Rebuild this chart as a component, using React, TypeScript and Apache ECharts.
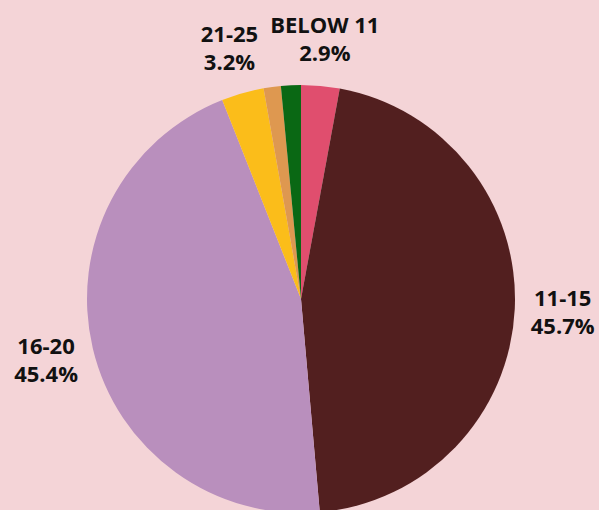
import React, { useEffect, useRef } from "react";
import * as echarts from "echarts";

const categories = ["BELOW 11", "11-15", "16-20", "21-25", "26-30", "ABOVE 30"];
const shares = [2.9, 45.7, 45.4, 3.2, 1.3, 1.5];
const colors = ["#e04e6e", "#521f1f", "#b98fbd", "#fbbd1a", "#de9850", "#0a6814"];
const labelled = [true, true, true, true, false, false];

export default function App() {
  const ref = useRef<HTMLDivElement>(null);
  useEffect(() => {
    if (!ref.current) return;
    const chart = echarts.init(ref.current, null, { renderer: "svg" });
    const slices = categories.map((name, i) => ({
      name,
      value: shares[i],
      itemStyle: { color: colors[i] },
    }));
    const labels = categories.map((name, i) => ({
      name,
      value: shares[i],
      itemStyle: { color: "rgba(0,0,0,0)" },
      label: { show: labelled[i] },
    }));
    chart.setOption({
      animation: false,
      backgroundColor: "#f4d4d7",
      series: [
        {
          type: "pie",
          center: [301, 299],
          radius: [0, 214],
          startAngle: 90,
          clockwise: true,
          silent: true,
          label: { show: false },
          labelLine: { show: false },
          itemStyle: { borderWidth: 0 },
          data: slices,
        },
        {
          type: "pie",
          center: [301, 299],
          radius: [215, 303],
          startAngle: 90,
          clockwise: true,
          silent: true,
          avoidLabelOverlap: false,
          labelLine: { show: false },
          itemStyle: { borderWidth: 0 },
          label: {
            show: true,
            position: "inside",
            rotate: 0,
            color: "#111111",
            fontFamily: "Open Sans",
            fontWeight: 700,
            fontSize: 22,
            lineHeight: 28,
            align: "center",
            formatter: (p: any) => `${p.name}\n${p.value}%`,
          },
          data: labels,
        },
      ],
    });
    return () => chart.dispose();
  }, []);
  return (
    <div
      ref={ref}
      style={{ position: "fixed", left: 0, top: 0, width: 599, height: 510 }}
    />
  );
}
